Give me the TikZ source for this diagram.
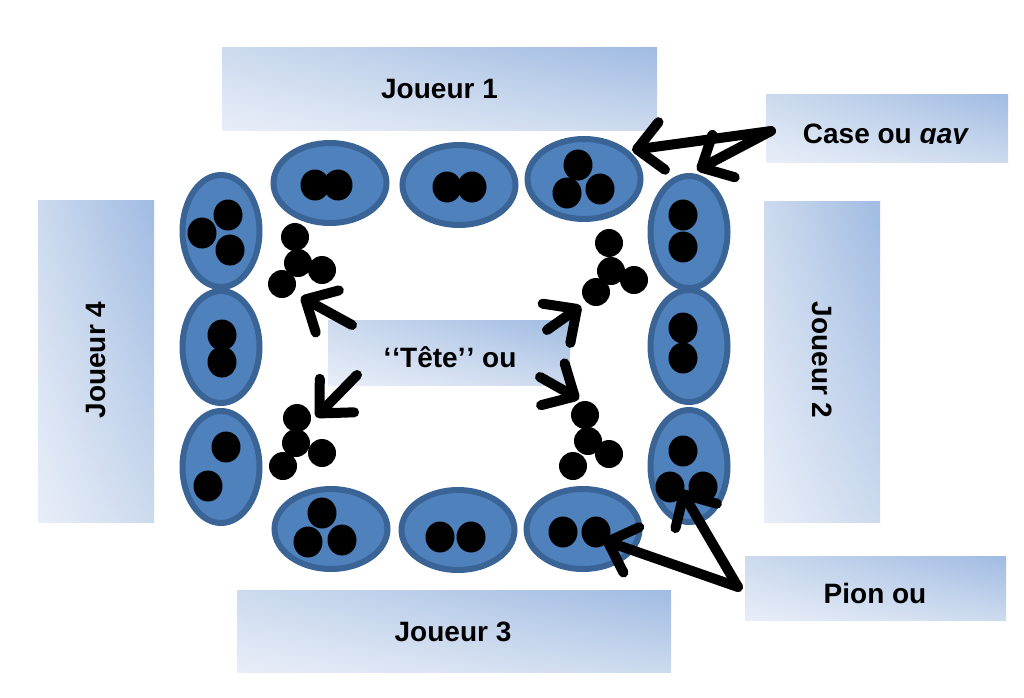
\documentclass[tikz,border=0pt]{standalone}
\usepackage{fontspec}
\setmainfont{Liberation Sans}
\usetikzlibrary{shapes.geometric,arrows.meta,shadings}
\definecolor{boxlight}{HTML}{E8EEF8}
\definecolor{boxdark}{HTML}{A0BBE2}
\definecolor{boxmid}{HTML}{CCDAEE}
\definecolor{cellfill}{HTML}{4F81BD}
\definecolor{celledge}{HTML}{3A6496}
\begin{document}
\begin{tikzpicture}[x=1pt,y=-1pt,
  lab/.style={font=\fontsize{28}{33}\selectfont\bfseries, inner sep=0},
  pbox/.style={shade, lower left=boxlight, upper right=boxdark, upper left=boxmid, lower right=boxmid, inner sep=0},
  cellh/.style={ellipse, fill=cellfill, draw=celledge, line width=6pt, minimum width=113pt, minimum height=80pt, inner sep=0},
  cellv/.style={cellh, minimum width=77pt, minimum height=112pt},
  pawn/.style={fill=black},
  arr/.style={line width=10pt, line cap=round, -{Straight Barb[length=25pt,width=48pt,round]}},
]
\useasboundingbox (0,0) rectangle (1024,697);
% boxes
\node[pbox, minimum width=435pt, minimum height=83pt] (j1) at (439.5,88.5) {};
\node[lab] (j1t) at (439.5,89) {Joueur 1};
\node[pbox, minimum width=242pt, minimum height=68pt] (case) at (887,128) {};
\begin{scope}
  \clip (766,94) rectangle (1008,143.5);
  \node[lab, anchor=base] (caset) at (886,143) {Case ou \textit{gay}};
\end{scope}
\node[pbox, minimum width=116pt, minimum height=321pt] (j2) at (822,361.5) {};
\node[lab, rotate=-90] (j2t) at (822,360) {Joueur 2};
\node[pbox, minimum width=116pt, minimum height=322pt] (j4) at (96,361) {};
\node[lab, rotate=90] (j4t) at (96,360) {Joueur 4};
\node[pbox, minimum width=434pt, minimum height=82pt] (j3) at (454,631) {};
\node[lab] (j3t) at (453,632) {Joueur 3};
\node[pbox, minimum width=261pt, minimum height=64pt] (pion) at (875.5,588) {};
\node[lab] (piont) at (875,593) {Pion ou};
\node[pbox, minimum width=242pt, minimum height=65pt] (tete) at (449,352.5) {};
\node[lab] (tetet) at (450,357) {‘\kern1pt‘Tête’\kern1pt’ ou};
% cells
\node[cellh] (t1) at (330,183) {};
\node[cellh] (t2) at (459,185) {};
\node[cellh] (t3) at (584,179) {};
\node[cellh] (b1) at (331,529) {};
\node[cellh] (b2) at (458,530) {};
\node[cellh] (b3) at (583,529) {};
\node[cellv] (l1) at (221,231) {};
\node[cellv] (l2) at (221,347) {};
\node[cellv] (l3) at (221,467) {};
\node[cellv] (r1) at (689,232) {};
\node[cellv] (r2) at (689,346) {};
\node[cellv] (r3) at (689,466) {};
% pawns
\foreach \p in {(315,185),(338,185),(447,187),(472,187),(578,165),(567,193),(600,189),
  (228,215),(202,233),(230,250),(222,335),(222,362),(226,447),(208,486),
  (683,215),(683,247),(683,328),(683,358),(683,451),(670,487),(703,487),
  (322,513),(308,542),(342,540),(440,537),(471,537),(563,532),(596,532)}
  \fill[pawn] \p ellipse (14.5 and 15.5);
% heads
\foreach \p in {(295,237),(298,263),(322,270),(282,284),
  (609,243),(611,271),(634,280),(596,292),
  (297,418),(296,443),(322,453),(283,466),
  (585,415),(588,441),(609,454),(573,466)}
  \fill[pawn] \p circle (14);
% arrow ends
\coordinate (a1s) at (352,325); \coordinate (a1e) at (301,297);
\coordinate (a2s) at (357,375); \coordinate (a2e) at (316,417);
\coordinate (a3s) at (547,330); \coordinate (a3e) at (581,306);
\coordinate (a4s) at (540,377); \coordinate (a4e) at (579,399);
\coordinate (cs) at (771,131);
\coordinate (c1e) at (632,150); \coordinate (c2e) at (697,170);
\coordinate (ps) at (738,587);
\coordinate (p1e) at (603,540); \coordinate (p2e) at (681,490);
\draw[arr] (a1s) -- (a1e);
\draw[arr] (a2s) -- (a2e);
\draw[arr] (a3s) -- (a3e);
\draw[arr] (a4s) -- (a4e);
\draw[arr] (cs) -- (c1e);
\draw[arr] (cs) -- (c2e);
\draw[arr] (ps) -- (p1e);
\draw[arr] (ps) -- (p2e);
\end{tikzpicture}
\end{document}
